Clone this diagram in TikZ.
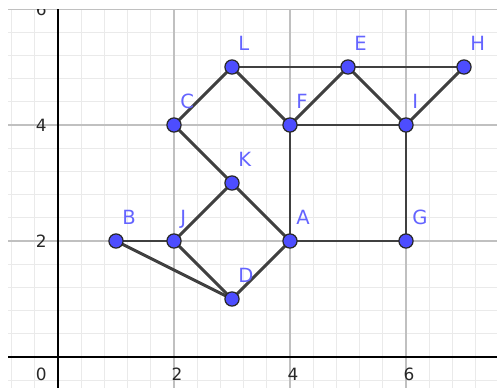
\documentclass[tikz,border=0pt]{standalone}
\usepackage{fontspec}
\setmainfont{DejaVu Sans}
\definecolor{ptfill}{RGB}{77,77,255}
\definecolor{ptline}{RGB}{40,40,40}
\definecolor{labcol}{RGB}{100,100,255}
\definecolor{edgecol}{RGB}{64,64,64}
\definecolor{minorgrid}{RGB}{234,234,234}
\definecolor{majorgrid}{RGB}{192,192,192}
\definecolor{axnum}{RGB}{40,40,40}
\tikzset{
  minorline/.style={draw=minorgrid, line width=0.5pt},
  majorline/.style={draw=majorgrid, line width=0.6pt},
  axisline/.style={draw=black, line width=0.75pt},
  edge/.style={draw=edgecol, line width=1.45pt},
  dot/.style={circle, fill=ptfill, draw=ptline, line width=0.6pt, minimum size=0.245cm, inner sep=0pt},
  lab/.style={text=labcol, inner sep=0pt, anchor=base west, font=\fontsize{9.6}{11}\selectfont},
  axlab/.style={text=axnum, inner sep=0pt, font=\fontsize{8.3}{10}\selectfont}
}
\begin{document}
\begin{tikzpicture}[x=1cm,y=1cm]
\useasboundingbox (-1,-0.5172) rectangle (7.5690,6.1552);
\begin{scope}
\clip (-0.862,-0.5172) rectangle (7.5690,5.983);
% minor grid
\foreach \x in {-0.8,-0.4,0.4,0.8,1.2,1.6,2.4,2.8,3.2,3.6,4.4,4.8,5.2,5.6,6.4,6.8,7.2}
  \draw[minorline] (\x,-0.6) -- (\x,6.2);
\foreach \y in {-0.4,0.4,0.8,1.2,1.6,2.4,2.8,3.2,3.6,4.4,4.8,5.2,5.6}
  \draw[minorline] (-1,\y) -- (7.6,\y);
% major grid
\foreach \x in {2,4,6}
  \draw[majorline] (\x,-0.6) -- (\x,6.2);
\foreach \y in {2,4,6}
  \draw[majorline] (-1,\y) -- (7.6,\y);
% axes
\draw[axisline] (-1,0) -- (7.6,0);
\draw[axisline] (0,-0.6) -- (0,6.2);
% axis labels
\node[axlab, anchor=north east] (l0) at (-0.19,-0.19) {0};
\foreach \x in {2,4,6}
  \node[axlab, anchor=north] (lx\x) at (\x+0.052,-0.19) {\x};
\foreach \y in {2,4,6}
  \node[axlab, anchor=east] (ly\y) at (-0.19,\y) {\y};
\end{scope}
% points
\coordinate (A) at (4,2);
\coordinate (B) at (1,2);
\coordinate (C) at (2,4);
\coordinate (D) at (3,1);
\coordinate (E) at (5,5);
\coordinate (F) at (4,4);
\coordinate (G) at (6,2);
\coordinate (H) at (7,5);
\coordinate (I) at (6,4);
\coordinate (J) at (2,2);
\coordinate (K) at (3,3);
\coordinate (L) at (3,5);
% edges
\foreach \a/\b in {B/J,B/D,J/D,J/K,K/C,C/L,L/F,L/E,E/H,E/F,E/I,H/I,F/I,F/A,K/A,D/A,A/G,G/I}
  \draw[edge] (\a) -- (\b);
% dots and labels
\foreach \p in {A,B,C,D,E,F,G,H,I,J,K,L}{
  \node[dot] (p\p) at (\p) {};
  \node[lab] (t\p) at ([shift={(0.103,0.276)}]\p) {\p};
}
\end{tikzpicture}
\end{document}
